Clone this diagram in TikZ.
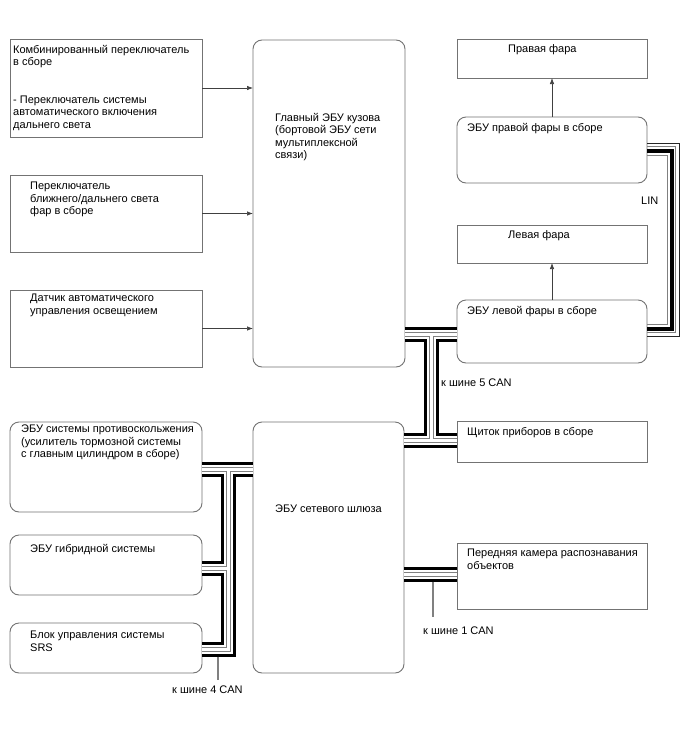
\documentclass[tikz,border=0pt]{standalone}
\usepackage{fontspec}
\setmainfont{Liberation Sans}
\usetikzlibrary{calc,arrows.meta}
\definecolor{bord}{gray}{0.45}
\definecolor{wire}{gray}{0.5}
\begin{document}
\begin{tikzpicture}[x=1pt,y=-1pt,
  box/.style={draw=bord, line width=0.9pt, anchor=north west, inner sep=0pt, outer sep=0pt},
  rbox/.style={box, rounded corners=9pt},
  txt/.style={anchor=north west, inner sep=0pt, align=left, font=\fontsize{11}{12.5}\selectfont},
  arr/.style={-{Latex[length=6pt,width=4.5pt]}, draw=black!75, line width=0.7pt},
  stub/.style={draw=wire, line width=1.6pt},
  lbl/.style={anchor=west, inner sep=0pt, font=\fontsize{11}{12.5}\selectfont},
  linthin/.style={line width=0.8pt},
]
\fill[white] (0,0) rectangle (688,755);
\useasboundingbox (0,0) rectangle (688,755);

% ---------- left column ----------
\node[box, minimum width=192, minimum height=98] (comb) at (10,39) {};
\node[txt] (combt) at (13,45) {Комбинированный переключатель\\в сборе};
\node[txt] (combt2) at (13,95.5) {- Переключатель системы\\автоматического включения\\дальнего света};

\node[box, minimum width=192, minimum height=77] (hl) at (10,175) {};
\node[txt] (hlt) at (30,182) {Переключатель\\ближнего/дальнего света\\фар в сборе};

\node[box, minimum width=192, minimum height=77] (sens) at (10,290) {};
\node[txt] (senst) at (30,294) {Датчик автоматического\\управления освещением};

% ---------- main body ECU ----------
\node[rbox, minimum width=152, minimum height=327] (main) at (253,40) {};
\node[txt] (maint) at (275,113) {Главный ЭБУ кузова\\(бортовой ЭБУ сети\\мультиплексной\\связи)};

% ---------- right column ----------
\node[box, minimum width=190, minimum height=39] (rhf) at (457,39) {};
\node[txt] (rhft) at (508,44) {Правая фара};
\node[rbox, minimum width=190, minimum height=66] (rhecu) at (457,117) {};
\node[txt] (rhecut) at (467,123) {ЭБУ правой фары в сборе};

\node[box, minimum width=190, minimum height=38] (lhf) at (457,225) {};
\node[txt] (lhft) at (508,230) {Левая фара};
\node[rbox, minimum width=190, minimum height=63] (lhecu) at (457,300) {};
\node[txt] (lhecut) at (467,306) {ЭБУ левой фары в сборе};

\node[box, minimum width=190, minimum height=41] (ic) at (457,421) {};
\node[txt] (ict) at (467,427) {Щиток приборов в сборе};

\node[box, minimum width=190, minimum height=66] (cam) at (457,543) {};
\node[txt] (camt) at (467,549) {Передняя камера распознавания\\объектов};

% ---------- bottom left ----------
\node[rbox, minimum width=192, minimum height=90] (esc) at (10,422) {};
\node[txt] (esct) at (21,425) {ЭБУ системы противоскольжения\\(усилитель тормозной системы\\с главным цилиндром в сборе)};

\node[rbox, minimum width=192, minimum height=60] (hyb) at (10,535) {};
\node[txt] (hybt) at (30,544) {ЭБУ гибридной системы};

\node[rbox, minimum width=192, minimum height=50] (srs) at (10,623) {};
\node[txt] (srst) at (30,631) {Блок управления системы\\SRS};

\node[rbox, minimum width=151, minimum height=251] (gw) at (253,422) {};
\node[txt] (gwt) at (275,505) {ЭБУ сетевого шлюза};

% ---------- arrows ----------
\draw[arr] (comb.east) -- (comb.east -| main.west);
\draw[arr] (hl.east) -- (hl.east -| main.west);
\draw[arr] (sens.east) -- (sens.east -| main.west);
\draw[arr] (rhecu.north) -- (rhf.south);
\draw[arr] (lhecu.north) -- (lhf.south);

% ---------- CAN buses ----------
\coordinate (m1) at (431,334);
\coordinate (m2) at (431,440);
\coordinate (l1) at (228,469);
\coordinate (l2) at (228,568);
\coordinate (l3) at (228,649);
\coordinate (c1) at (433,574);
\foreach \w/\c in {15/black,9/white,5/wire,3/white}{
  \draw[line width=\w pt, draw=\c]
    (m1 -| main.east) -- (m1 -| lhecu.west)
    (m1) -- (m2)
    (m2 -| gw.east) -- (m2 -| ic.west)
    (l1 -| esc.east) -- (l1 -| gw.west)
    (l1) -- (l3) -- (l3 -| srs.east)
    (l2) -- (l2 -| hyb.east)
    (c1 -| gw.east) -- (c1 -| cam.west);
}
\coordinate (c1s) at (433,617);
\draw[stub] ($(c1)+(0,7.5)$) -- (c1s);
\coordinate (l3s) at (218,680);
\draw[stub] (218,656.5) -- (l3s);

% ---------- LIN ----------
\draw[linthin, black!85] (rhecu.east |- 0,143) -- (679,143) -- (679,336) -- (lhecu.east |- 0,336);
\draw[linthin, wire] (rhecu.east |- 0,146.5) -- (675.5,146.5) -- (675.5,332.5) -- (lhecu.east |- 0,332.5);
\draw[line width=4pt, black] (rhecu.east |- 0,150.5) -- (671.5,150.5) -- (671.5,328.5) -- (lhecu.east |- 0,328.5);
\draw[linthin, wire] (rhecu.east |- 0,155) -- (667,155) -- (667,324) -- (lhecu.east |- 0,324);

% ---------- labels ----------
\node[lbl] (can5) at (441,383) {к шине 5 CAN};
\node[lbl] (can1) at (423,631) {к шине 1 CAN};
\node[lbl] (can4) at (172,690) {к шине 4 CAN};
\node[lbl] (lin) at (641,201) {LIN};
\end{tikzpicture}
\end{document}
